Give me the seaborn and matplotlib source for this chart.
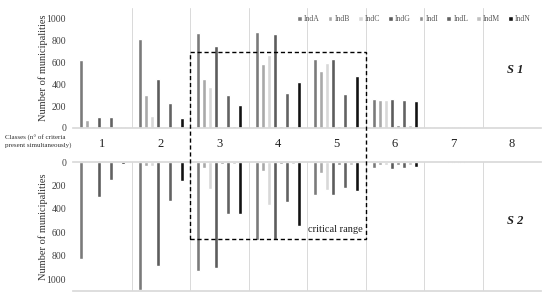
import numpy as np
import pandas as pd
import matplotlib
matplotlib.use("Agg")
import matplotlib.pyplot as plt
from matplotlib.patches import Rectangle
import seaborn as sns

classes = ["1", "2", "3", "4", "5", "6", "7", "8"]
indicators = ["IndA", "IndB", "IndC", "IndG", "IndI", "IndL", "IndM", "IndN"]

# Scenario S 1 (top panel)
IndA_S1 = [620, 820, 868, 877, 634, 266, 5, 3]
IndB_S1 = [72, 302, 452, 583, 526, 257, 3, 2]
IndC_S1 = [22, 110, 378, 667, 599, 257, 3, 2]
IndG_S1 = [101, 452, 755, 860, 630, 266, 6, 3]
IndI_S1 = [0, 0, 10, 18, 22, 25, 6, 3]
IndL_S1 = [104, 226, 304, 323, 308, 253, 6, 3]
IndM_S1 = [0, 10, 16, 20, 22, 25, 4, 2]
IndN_S1 = [11, 88, 208, 418, 477, 250, 4, 3]

# Scenario S 2 (bottom panel, drawn downward)
IndA_S2 = [830, 1090, 926, 665, 280, 50, 3, 1]
IndB_S2 = [5, 34, 55, 78, 92, 28, 2, 1]
IndC_S2 = [3, 34, 228, 370, 242, 28, 2, 1]
IndG_S2 = [300, 885, 906, 665, 280, 56, 5, 1]
IndI_S2 = [0, 3, 14, 18, 28, 28, 5, 1]
IndL_S2 = [151, 330, 440, 340, 218, 48, 5, 1]
IndM_S2 = [0, 8, 20, 20, 28, 28, 3, 1]
IndN_S2 = [14, 163, 445, 542, 247, 45, 3, 1]

yticks = [0, 200, 400, 600, 800, 1000]
critical_classes = ("3", "5")
critical_top = 700
critical_bottom = 660

colors = ["#7a7a7a", "#a9a9a9", "#d8d8d8", "#5c5c5c",
          "#8e8e8e", "#626262", "#c0c0c0", "#121212"]

def long_df(series):
    rows = []
    for ind, vals in zip(indicators, series):
        for c, v in zip(classes, vals):
            rows.append({"Class": c, "Indicator": ind, "Value": v})
    return pd.DataFrame(rows)

df1 = long_df([IndA_S1, IndB_S1, IndC_S1, IndG_S1, IndI_S1, IndL_S1, IndM_S1, IndN_S1])
df2 = long_df([IndA_S2, IndB_S2, IndC_S2, IndG_S2, IndI_S2, IndL_S2, IndM_S2, IndN_S2])

sns.set_theme(style="white")
plt.rcParams["font.family"] = ["Liberation Serif", "DejaVu Serif"]

W, H = 550, 299
fig = plt.figure(figsize=(W / 100, H / 100), dpi=100)
ax1 = fig.add_axes([73 / W, 1 - 128 / H, 468 / W, 120 / H])
ax2 = fig.add_axes([73 / W, 1 - 291 / H, 468 / W, 129 / H])

pal = dict(zip(indicators, colors))
sns.barplot(data=df1, x="Class", y="Value", hue="Indicator", order=classes,
            hue_order=indicators, palette=pal, width=0.82, gap=0.32,
            saturation=1, ax=ax1, legend=True)
sns.barplot(data=df2, x="Class", y="Value", hue="Indicator", order=classes,
            hue_order=indicators, palette=pal, width=0.82, gap=0.32,
            saturation=1, ax=ax2, legend=False)

grid_c = "#d9d9d9"
tick_c = "#404040"
for ax in (ax1, ax2):
    ax.set_xlim(-0.5, 7.5)
    ax.set_yticks(yticks)
    ax.set_yticklabels([str(t) for t in yticks], fontsize=7, color=tick_c)
    ax.tick_params(axis="y", length=0, pad=5)
    ax.set_xticks(np.arange(0.5, 7.5, 1.0), minor=True)
    ax.grid(which="minor", axis="x", color=grid_c, lw=0.7)
    ax.grid(which="major", axis="both", visible=False)
    ax.set_xlabel("")
    ax.set_ylabel("Number of municipalities", fontsize=7.5, color="#303030", labelpad=-1)
    for s in ("left", "right"):
        ax.spines[s].set_visible(False)
    ax.tick_params(axis="x", which="minor", length=0)

ax1.set_ylim(0, 1100)
ax1.spines["top"].set_visible(False)
ax1.spines["bottom"].set_color(grid_c)
ax1.set_xticks(range(len(classes)))
ax1.set_xticklabels(classes, fontsize=9, color="#202020")
ax1.tick_params(axis="x", which="major", length=0, pad=7)

ax2.set_ylim(1100, 0)
ax2.spines["top"].set_color(grid_c)
ax2.spines["bottom"].set_color(grid_c)
ax2.set_xticks(range(len(classes)))
ax2.set_xticklabels([])
ax2.tick_params(axis="x", which="major", length=0)

leg = ax1.legend(ncol=8, loc="center right", bbox_to_anchor=(0.985, 0.905),
                 frameon=False, fontsize=5.6, handlelength=0.6, handleheight=0.6,
                 columnspacing=1.0, handletextpad=0.3, borderaxespad=0)
for t in leg.get_texts():
    t.set_color("#595959")

ax1.text(0.944, 0.483, "S 1", transform=ax1.transAxes, ha="center", va="center",
         fontsize=9, fontweight="bold", fontstyle="italic", color="#202020")
ax2.text(0.944, 0.543, "S 2", transform=ax2.transAxes, ha="center", va="center",
         fontsize=9, fontweight="bold", fontstyle="italic", color="#202020")

fig.text(5 / W, 1 - 141.5 / H, "Classes (n° of criteria\npresent simultaneously)",
         ha="left", va="center", fontsize=5.0, color="#303030", linespacing=1.35)

# dashed "critical range" box spanning both panels
fig.canvas.draw()
i0 = classes.index(critical_classes[0]) - 0.5
i1 = classes.index(critical_classes[1]) + 0.5
p_top = ax1.transData.transform((i0, critical_top))
p_bot = ax2.transData.transform((i1, critical_bottom))
f_top = fig.transFigure.inverted().transform(p_top)
f_bot = fig.transFigure.inverted().transform(p_bot)
rect = Rectangle((f_top[0], f_bot[1]), f_bot[0] - f_top[0], f_top[1] - f_bot[1],
                 transform=fig.transFigure, fill=False, edgecolor="black",
                 lw=1.0, ls=(0, (3, 2)), zorder=10)
fig.add_artist(rect)
fig.text(f_bot[0] - 3 / W, f_bot[1] + 10 / H, "critical range", ha="right",
         va="center", fontsize=7.5, color="#202020")

fig.savefig("out.png", dpi=100, facecolor="white")
